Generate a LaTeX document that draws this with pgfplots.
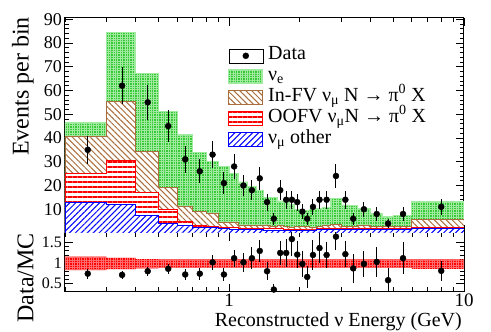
\documentclass[border=0pt]{standalone}
\usepackage{fontspec}
\setmainfont{Liberation Serif}
\usepackage{pgfplots}
\usepackage{pgfplotstable}
\pgfplotsset{compat=1.18}
\usepgfplotslibrary{fillbetween}
\usetikzlibrary{patterns.meta}

\definecolor{mcgreen}{RGB}{55,200,55}
\definecolor{mcgreenlt}{RGB}{160,235,160}
\definecolor{mcbrown}{RGB}{170,110,60}
\definecolor{mcred}{RGB}{255,0,0}
\definecolor{mcredlt}{RGB}{255,110,110}
\definecolor{mcblue}{RGB}{0,0,255}

\newcommand{\labfont}{\fontsize{20}{24}\selectfont}
\newcommand{\ylabfont}{\fontsize{24}{28}\selectfont}

\tikzset{
  nuesty/.style={draw=mcgreenlt, line width=0.8pt, fill=mcgreen,
    postaction={pattern={Hatch[angle=0,distance=2.4pt,line width=0.45pt]}, pattern color=mcgreenlt}},
  infvsty/.style={draw=mcbrown, line width=0.8pt, fill=white,
    postaction={pattern={Lines[angle=-45,distance=4.2pt,line width=1pt]}, pattern color=mcbrown}},
  oofvsty/.style={draw=mcred, line width=0.8pt, fill=white,
    postaction={pattern={Lines[angle=0,distance=5pt,line width=1.3pt]}, pattern color=mcred}},
  othsty/.style={draw=mcblue, line width=0.8pt, fill=white,
    postaction={pattern={Lines[angle=45,distance=4.2pt,line width=1pt]}, pattern color=mcblue}},
}

% stacked MC, cumulative heights, bin lower edges (last row closes the 6-10 bin)
\pgfplotstableread{
e     tot   inf   oof   oth
0.2   46.5  40.5  25.0  13.0
0.3   84.6  55.5  30.5  12.0
0.4   67.3  34.5  17.0  7.5
0.5   51.3  19.0  10.0  4.0
0.6   41.5  11.2  5.0   3.0
0.7   34.0  9.0   3.0   2.5
0.8   30.0  8.2   2.6   2.2
0.9   28.0  4.6   2.2   1.8
1.0   25.0  4.6   2.2   1.6
1.1   21.5  3.3   2.0   1.5
1.2   19.5  3.0   1.9   1.4
1.3   18.0  3.2   1.9   1.4
1.4   15.0  3.4   1.8   1.3
1.5   15.0  2.8   1.8   1.3
1.6   13.5  3.0   1.8   1.3
1.7   13.0  2.6   1.7   1.2
1.8   12.0  2.4   1.6   1.1
1.9   10.0  2.6   1.6   1.1
2.0   9.0   2.8   1.7   1.2
2.1   9.5   2.6   1.7   1.3
2.2   9.8   2.4   1.7   1.3
2.35  10.5  2.8   1.8   1.4
2.5   10.7  3.2   1.9   1.5
2.7   14.5  3.6   2.0   1.5
3.0   11.8  2.9   1.9   1.5
3.25  11.5  2.7   1.8   1.4
3.5   10.3  3.0   1.9   1.5
4.0   8.2   2.9   1.9   1.5
4.5   6.8   2.7   1.8   1.4
5.0   7.3   2.9   1.9   1.5
6.0   13.2  5.8   2.4   1.9
10.0  13.2  5.8   2.4   1.9
}\mctab

\pgfplotstableread{
x      n   en    r     er
0.25   35  5.92  0.74  0.125
0.35   62  7.87  0.71  0.090
0.45   55  7.42  0.80  0.108
0.55   45  6.71  0.86  0.128
0.65   31  5.57  0.72  0.129
0.75   26  5.10  0.74  0.145
0.85   33  5.74  1.02  0.178
0.95   21  4.58  0.72  0.157
1.05   28  5.29  1.12  0.210
1.15   20  4.47  1.02  0.228
1.25   18  4.24  1.12  0.264
1.35   23  4.80  1.30  0.271
1.45   13  3.61  0.80  0.222
1.55   6   2.45  0.35  0.143
1.65   18  4.24  1.25  0.295
1.75   14  3.74  1.25  0.334
1.85   14  3.74  1.59  0.425
1.95   13  3.61  1.21  0.336
2.05   9   3.00  0.98  0.327
2.15   6   2.45  0.66  0.270
2.275  11  3.32  1.20  0.362
2.425  14  3.74  1.37  0.366
2.6    14  3.74  1.20  0.321
2.85   24  4.90  1.65  0.337
3.125  14  3.74  1.22  0.326
3.375  6   2.45  0.87  0.355
3.75   10  3.16  0.98  0.310
4.25   8   2.83  1.03  0.364
4.75   4   2.00  0.58  0.290
5.5    8   2.83  1.12  0.396
8.0    11  3.32  0.81  0.244
}\datatab

\pgfplotstableread{
e     lo    hi
0.2   0.83  1.16
0.3   0.85  1.13
0.4   0.87  1.10
0.5   0.88  1.09
1.0   0.88  1.09
2.2   0.88  1.09
6.0   0.86  1.09
10.0  0.86  1.09
}\bandtab

\pgfplotsset{
  /pgf/number format/assume math mode=true,
  every axis/.append style={
    scale only axis, width=399pt, xmode=log, xmin=0.2, xmax=10,
    axis line style={line width=1pt},
    every tick/.style={black, line width=0.8pt},
    major tick length=8pt, minor tick length=4.5pt,
  },
}

\begin{document}
\begin{tikzpicture}
\begin{axis}[name=main, height=215pt, ymin=0, ymax=90.5,
  ytick={10,20,...,90}, minor y tick num=4, xticklabels={},
  yticklabel style={font=\fontsize{18}{20}\selectfont, inner sep=3pt},
  ylabel={\ylabfont Events per bin},
  ylabel style={inner sep=0pt, at={(axis description cs:-0.078,1.005)}, anchor=south east},
  legend style={at={(0.409,0.874)}, anchor=north west, draw=none, fill=none,
    inner sep=0pt, row sep=0pt, font=\labfont,
    nodes={inner sep=1pt, text height=13pt, text depth=6pt},
    /tikz/every odd column/.append style={column sep=4pt}},
  legend cell align=left]
\addplot[const plot, nuesty, forget plot] table[x=e, y=tot] {\mctab} \closedcycle;
\addplot[const plot, infvsty, forget plot] table[x=e, y=inf] {\mctab} \closedcycle;
\addplot[const plot, oofvsty, forget plot] table[x=e, y=oof] {\mctab} \closedcycle;
\addplot[const plot, othsty, forget plot] table[x=e, y=oth] {\mctab} \closedcycle;
\addplot[only marks, mark=*, mark size=3pt, black, forget plot,
  error bars/.cd, y dir=both, y explicit, error mark=none,
  error bar style={line width=1pt}] table[x=x, y=n, y error=en] {\datatab};

\addlegendimage{legend image code/.code={\path (0pt,-7pt) rectangle (34pt,7pt);
  \fill[black] (17pt,0pt) circle (3pt);}}
\addlegendentry{Data}
\addlegendimage{legend image code/.code={\draw[nuesty] (0pt,-7pt) rectangle (34pt,7pt);}}
\addlegendentry{ν\textsubscript{e}}
\addlegendimage{legend image code/.code={\draw[infvsty] (0pt,-7pt) rectangle (34pt,7pt);}}
\addlegendentry{In-FV ν\textsubscript{μ} N → π\textsuperscript{0} X}
\addlegendimage{legend image code/.code={\draw[oofvsty] (0pt,-7pt) rectangle (34pt,7pt);}}
\addlegendentry{OOFV ν\textsubscript{μ}N → π\textsuperscript{0} X}
\addlegendimage{legend image code/.code={\draw[othsty] (0pt,-7pt) rectangle (34pt,7pt);}}
\addlegendentry{ν\textsubscript{μ} other}
\end{axis}

\begin{axis}[at={(main.south west)}, anchor=north west, height=59pt,
  ymin=0.29, ymax=1.74, ytick={0.5,1,1.5}, minor y tick num=4,
  log ticks with fixed point,
  xticklabel style={font=\fontsize{19}{21}\selectfont, inner sep=1pt, yshift=-1pt},
  yticklabel style={font=\fontsize{16}{18}\selectfont, inner sep=3pt},
  xlabel={\labfont Reconstructed ν Energy (GeV)},
  xlabel style={inner sep=0pt, at={(axis description cs:1,0)}, anchor=north east, xshift=-2pt, yshift=-20pt},
  ylabel={\ylabfont Data/MC},
  ylabel style={inner sep=0pt, at={(axis description cs:-0.078,1)}, anchor=south east}]
\addplot[const plot, draw=none, name path=hi] table[x=e, y=hi] {\bandtab};
\addplot[const plot, draw=none, name path=lo] table[x=e, y=lo] {\bandtab};
\addplot[fill=mcred, draw=none,
  postaction={pattern={Hatch[angle=0,distance=2.4pt,line width=0.45pt]}, pattern color=mcredlt}]
  fill between[of=hi and lo];
\addplot[only marks, mark=*, mark size=3pt, black,
  error bars/.cd, y dir=both, y explicit, error mark=none,
  error bar style={line width=1pt}] table[x=x, y=r, y error=er] {\datatab};
\end{axis}

\pgfresetboundingbox
\path ([shift={(-65pt,18pt)}]main.north west) rectangle ([shift={(426pt,-314pt)}]main.north west);
\end{tikzpicture}
\end{document}
